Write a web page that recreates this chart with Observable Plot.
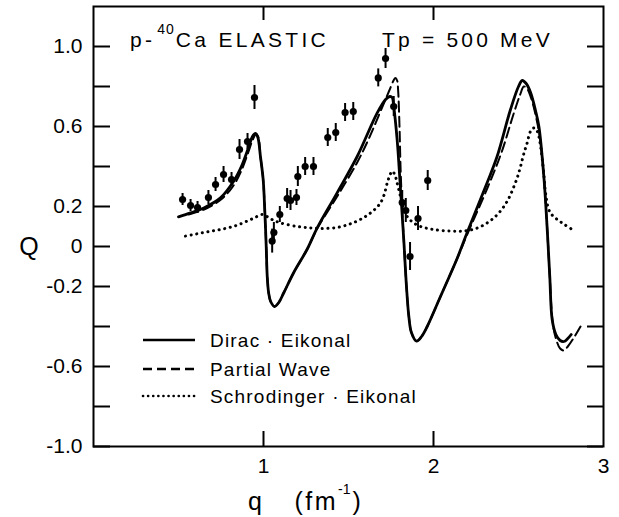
<!DOCTYPE html>
<html><head><meta charset="utf-8">
<script src="https://cdn.jsdelivr.net/npm/d3@7"></script>
<script src="https://cdn.jsdelivr.net/npm/@observablehq/plot@0.6"></script>
<style>body{margin:0;background:#fff}</style>
</head><body><div id="chart"></div>
<script>
// ---- measured data (q in fm^-1, Q analysing power) ----
const dataQ   = [0.524,0.571,0.612,0.676,0.718,0.765,0.812,0.859,0.906,0.947,
                 1.051,1.061,1.096,1.139,1.159,1.194,1.202,1.245,1.294,1.378,1.425,1.480,1.528,
                 1.675,1.718,1.766,1.816,1.837,1.862,1.909,1.966];
const dataVal = [0.235,0.205,0.195,0.245,0.310,0.360,0.335,0.485,0.525,0.745,
                 0.027,0.070,0.160,0.240,0.230,0.245,0.350,0.400,0.400,0.545,0.570,0.670,0.675,
                 0.843,0.940,0.700,0.220,0.180,-0.050,0.140,0.330];
const dataErr = [0.03,0.03,0.03,0.035,0.035,0.04,0.035,0.05,0.04,0.06,
                 0.06,0.05,0.04,0.05,0.05,0.04,0.05,0.045,0.045,0.045,0.045,0.045,0.045,
                 0.045,0.05,0.05,0.06,0.06,0.07,0.06,0.05];

// ---- Dirac-Eikonal (solid) ----
const diracQ = [0.50,0.571,0.649,0.747,0.825,0.875,0.914,0.935,0.953,0.967,0.982,0.998,1.008,1.016,1.022,1.030,1.042,1.065,1.09,1.12,1.178,1.256,1.316,1.433,1.551,1.669,1.718,1.743,1.757,1.766,1.786,1.806,1.825,1.841,1.855,1.870,1.900,1.930,1.963,2.041,2.139,2.198,2.316,2.374,2.453,2.500,2.522,2.545,2.571,2.600,2.620,2.649,2.668,2.684,2.698,2.720,2.745,2.767,2.790,2.810];
const diracVal = [0.148,0.168,0.193,0.243,0.327,0.410,0.500,0.550,0.565,0.545,0.450,0.335,0.170,0.000,-0.150,-0.230,-0.275,-0.300,-0.280,-0.230,-0.130,-0.015,0.093,0.268,0.450,0.668,0.735,0.750,0.745,0.700,0.535,0.285,0.035,-0.200,-0.350,-0.430,-0.473,-0.450,-0.400,-0.250,-0.060,0.070,0.320,0.450,0.685,0.800,0.830,0.815,0.770,0.680,0.600,0.350,0.100,-0.150,-0.365,-0.440,-0.470,-0.475,-0.460,-0.440];

// ---- Partial Wave (dashed) ----
const pwQ = [0.56,0.65,0.75,0.82,0.87,0.91,0.935,0.955,0.968,0.982,0.998,1.008,1.016,1.022,1.030,1.042,1.065,1.09,1.12,1.178,1.256,1.316,1.433,1.551,1.620,1.700,1.740,1.765,1.776,1.786,1.792,1.800,1.806,1.815,1.825,1.841,1.855,1.870,1.900,1.930,1.963,2.041,2.139,2.198,2.316,2.400,2.470,2.510,2.531,2.550,2.575,2.600,2.625,2.649,2.668,2.684,2.700,2.720,2.745,2.767,2.790,2.830,2.865];
const pwVal = [0.160,0.185,0.235,0.300,0.380,0.470,0.530,0.560,0.550,0.450,0.335,0.170,0.000,-0.150,-0.230,-0.275,-0.300,-0.280,-0.230,-0.130,-0.015,0.090,0.250,0.420,0.540,0.700,0.780,0.830,0.843,0.830,0.780,0.600,0.400,0.200,0.035,-0.200,-0.350,-0.430,-0.473,-0.450,-0.400,-0.250,-0.060,0.060,0.290,0.470,0.660,0.760,0.800,0.790,0.740,0.660,0.550,0.350,0.100,-0.150,-0.370,-0.460,-0.510,-0.520,-0.500,-0.450,-0.400];

// ---- Schrodinger-Eikonal (dotted) ----
const seQ = [0.541,0.60,0.65,0.70,0.747,0.80,0.85,0.904,0.95,0.992,1.02,1.05,1.10,1.20,1.276,1.35,1.433,1.50,1.55,1.60,1.63,1.66,1.688,1.71,1.728,1.745,1.757,1.772,1.786,1.806,1.825,1.845,1.88,1.924,2.0,2.1,2.178,2.25,2.316,2.37,2.414,2.445,2.473,2.495,2.512,2.53,2.551,2.57,2.59,2.605,2.62,2.63,2.64,2.65,2.659,2.678,2.70,2.728,2.77,2.816];
const seVal = [0.052,0.062,0.070,0.078,0.085,0.095,0.108,0.127,0.145,0.160,0.150,0.135,0.118,0.100,0.093,0.090,0.095,0.110,0.127,0.150,0.168,0.190,0.218,0.260,0.318,0.360,0.377,0.360,0.318,0.250,0.190,0.150,0.120,0.100,0.085,0.077,0.077,0.090,0.118,0.155,0.200,0.245,0.300,0.350,0.400,0.460,0.518,0.575,0.593,0.585,0.550,0.500,0.435,0.350,0.268,0.185,0.155,0.135,0.110,0.085];

// ---- axes / labels ----
const yTicks = [-1.0,-0.8,-0.6,-0.4,-0.2,0,0.2,0.4,0.6,0.8,1.0];
const yTickLabels = [1.0,0.6,0.2,0,-0.2,-0.6,-1.0];
const xTicks = [1,2];
const xTickLabels = [1,2,3];
const seriesNames = ["Dirac \u00b7 Eikonal","Partial Wave","Schrodinger \u00b7 Eikonal"];
const seriesDash = [null,"10,5","0.1,5.6"];

const FONT = "'Liberation Sans', Arial, sans-serif";

const points = dataQ.map((q,i)=>({q, v: dataVal[i], e: dataErr[i]}));
const dirac = diracQ.map((q,i)=>({q, v: diracVal[i]}));
const pw = pwQ.map((q,i)=>({q, v: pwVal[i]}));
const se = seQ.map((q,i)=>({q, v: seVal[i]}));

const annotate = (index, scales, values, dims) => {
  const L = dims.marginLeft, T = dims.marginTop;
  const g = d3.create("svg:g").attr("font-family", FONT).attr("fill", "black").attr("text-anchor", "start");
  // title
  const t = g.append("text").attr("x", L+37).attr("y", T+41).attr("font-size", 21).attr("letter-spacing", 3.3);
  t.append("tspan").text("p-");
  t.append("tspan").attr("dx", 2).attr("dy", -13).attr("font-size", 14).attr("letter-spacing", 1).text("40");
  t.append("tspan").attr("dx", 1).attr("dy", 13).text("Ca ELASTIC");
  g.append("text").attr("x", L+289).attr("y", T+41).attr("font-size", 21).attr("letter-spacing", 3.2).text("Tp = 500 MeV");
  // legend
  const ly = [340, 369, 396];
  seriesNames.forEach((name, i) => {
    g.append("line").attr("x1", 143).attr("x2", 195).attr("y1", ly[i]).attr("y2", ly[i])
      .attr("stroke", "black").attr("stroke-width", 2.6)
      .attr("stroke-linecap", i === 2 ? "round" : "butt")
      .attr("stroke-dasharray", i === 0 ? null : (i === 1 ? "9,5" : "0.1,5"));
    g.append("text").attr("x", 210).attr("y", ly[i] + 7).attr("font-size", 19).attr("letter-spacing", 1.2)
      .text(name);
  });
  // Q label
  g.append("text").attr("x", 29).attr("y", 255).attr("text-anchor", "middle").attr("font-size", 25).text("Q");
  // x label
  const xl = g.append("text").attr("x", 248).attr("y", 510).attr("font-size", 25).attr("letter-spacing", 2.5);
  xl.append("tspan").text("q");
  xl.append("tspan").attr("dx", 30).text("(fm");
  xl.append("tspan").attr("dy", -16).attr("font-size", 14).attr("letter-spacing", 0).text("-1");
  xl.append("tspan").attr("dx", 2).attr("dy", 16).text(")");
  return g.node();
};

const chart = Plot.plot({
  width: 619, height: 517,
  marginLeft: 93, marginRight: 16, marginTop: 6, marginBottom: 71,
  x: {domain: [0, 3]},
  y: {domain: [-1.0, 1.2]},
  style: {fontFamily: FONT, fontSize: "21px", color: "black", background: "white"},
  marks: [
    Plot.frame({stroke: "black", strokeWidth: 2}),
    Plot.tickY(yTicks, {y: d => d, insetRight: 493, strokeWidth: 2}),
    Plot.tickY(yTicks, {y: d => d, insetLeft: 494, strokeWidth: 2}),
    Plot.tickX(xTicks, {x: d => d, insetBottom: 426, strokeWidth: 2}),
    Plot.tickX(xTicks, {x: d => d, insetTop: 425, strokeWidth: 2}),
    Plot.axisY(yTickLabels, {tickSize: 0, tickPadding: 11, label: null, fontSize: 21,
      tickFormat: d => d === 0 ? "0" : d.toFixed(1)}),
    Plot.axisX(xTickLabels, {tickSize: 0, tickPadding: 12, label: null, fontSize: 21,
      tickFormat: d => String(d)}),
    Plot.line(se, {x: "q", y: "v", curve: "catmull-rom", stroke: "black", strokeWidth: 3,
      strokeDasharray: seriesDash[2], strokeLinecap: "round"}),
    Plot.line(pw, {x: "q", y: "v", curve: "catmull-rom", stroke: "black", strokeWidth: 2,
      strokeDasharray: seriesDash[1]}),
    Plot.line(dirac, {x: "q", y: "v", curve: "catmull-rom", stroke: "black", strokeWidth: 2.8}),
    Plot.ruleX(points, {x: "q", y1: d => d.v - d.e, y2: d => d.v + d.e, stroke: "black", strokeWidth: 2}),
    Plot.dot(points, {x: "q", y: "v", r: 3.6, fill: "black"}),
    annotate
  ]
});
document.getElementById("chart").append(chart);
</script>
</body></html>
